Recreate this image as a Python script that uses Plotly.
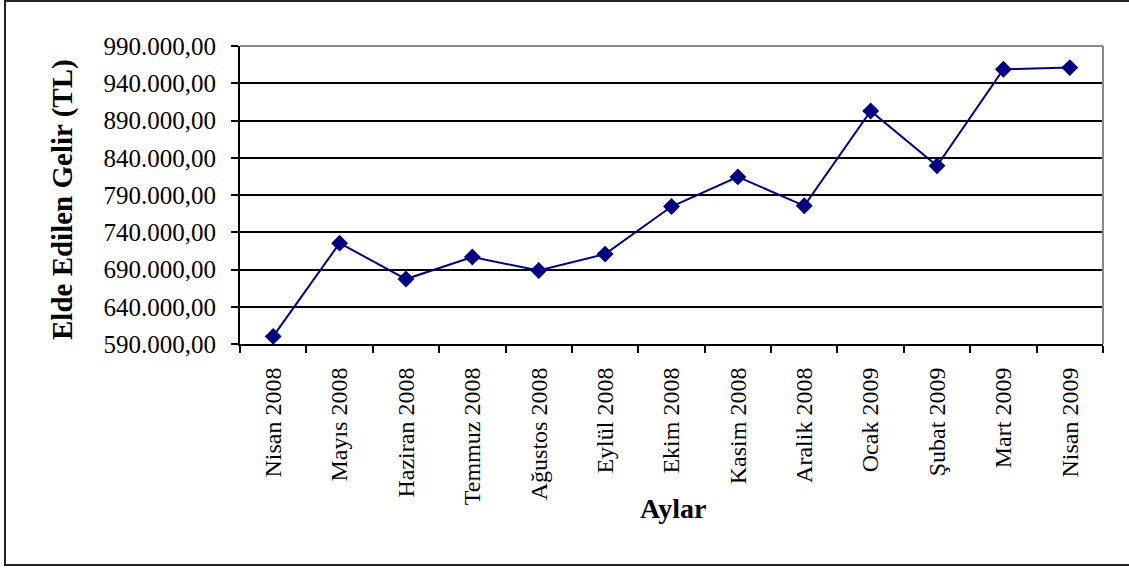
import plotly.graph_objects as go

# Monthly revenue (TL), April 2008 - April 2009
months = ["Nisan 2008", "Mayıs 2008", "Haziran 2008", "Temmuz 2008", "Ağustos 2008",
          "Eylül 2008", "Ekim 2008", "Kasim 2008", "Aralik 2008", "Ocak 2009",
          "Şubat 2009", "Mart 2009", "Nisan 2009"]
revenue = [600200, 725400, 677200, 706700, 688700, 710700, 774500,
           814300, 775500, 902800, 829100, 958800, 961000]
y_ticks = [590000, 640000, 690000, 740000, 790000, 840000, 890000, 940000, 990000]

W, H = 1129, 568
L, R, T, B = 240, 26, 46, 224
pw, ph = W - L - R, H - T - B

def px(x):
    return (x - L) / pw

def py(y):
    return 1 - (y - T) / ph

FONT = "Liberation Serif, Times New Roman, serif"

fig = go.Figure()
fig.add_trace(go.Scatter(
    x=months, y=revenue, mode="lines+markers",
    line=dict(color="#000080", width=2),
    marker=dict(symbol="diamond", size=13, color="#000080"),
    showlegend=False, cliponaxis=False,
))

fig.update_layout(
    width=W, height=H,
    margin=dict(l=L, r=R, t=T, b=B),
    paper_bgcolor="white", plot_bgcolor="white",
    separators=",.",
    font=dict(family=FONT, color="black"),
    xaxis=dict(
        type="category", range=[-0.5, len(months) - 0.5],
        tickson="boundaries", ticks="outside", ticklen=7, tickwidth=1.5, tickcolor="black",
        showline=True, linecolor="black", linewidth=2,
        showgrid=False, tickangle=-90, tickfont=dict(size=24, family=FONT),
        ticklabelstandoff=12,
    ),
    yaxis=dict(
        range=[590000, 990000], tickvals=y_ticks, tickformat=",.2f",
        ticks="outside", ticklen=7, tickwidth=1.5, tickcolor="black",
        showline=True, linecolor="black", linewidth=2,
        showgrid=True, gridcolor="black", gridwidth=1.5, zeroline=False,
        tickfont=dict(size=25, family=FONT), ticklabelstandoff=10,
    ),
    shapes=[
        # plot-area frame (top and right)
        dict(type="line", xref="paper", yref="paper", x0=0, x1=1, y0=1, y1=1,
             line=dict(color="#888888", width=2), layer="above"),
        dict(type="line", xref="paper", yref="paper", x0=1, x1=1, y0=0, y1=1,
             line=dict(color="#888888", width=2), layer="above"),
        # outer chart border
        dict(type="rect", xref="paper", yref="paper",
             x0=px(5), x1=px(1135), y0=py(565), y1=py(1),
             line=dict(color="#222222", width=2), layer="below"),
    ],
    annotations=[
        dict(text="<b>Elde Edilen Gelir (TL)</b>", xref="paper", yref="paper",
             x=px(62), y=py(200), textangle=-90, showarrow=False,
             font=dict(size=29, family=FONT), xanchor="center", yanchor="middle"),
        dict(text="<b>Aylar</b>", xref="paper", yref="paper",
             x=px(673), y=py(508), showarrow=False,
             font=dict(size=28, family=FONT), xanchor="center", yanchor="middle"),
    ],
)

fig.write_html("out.html")
